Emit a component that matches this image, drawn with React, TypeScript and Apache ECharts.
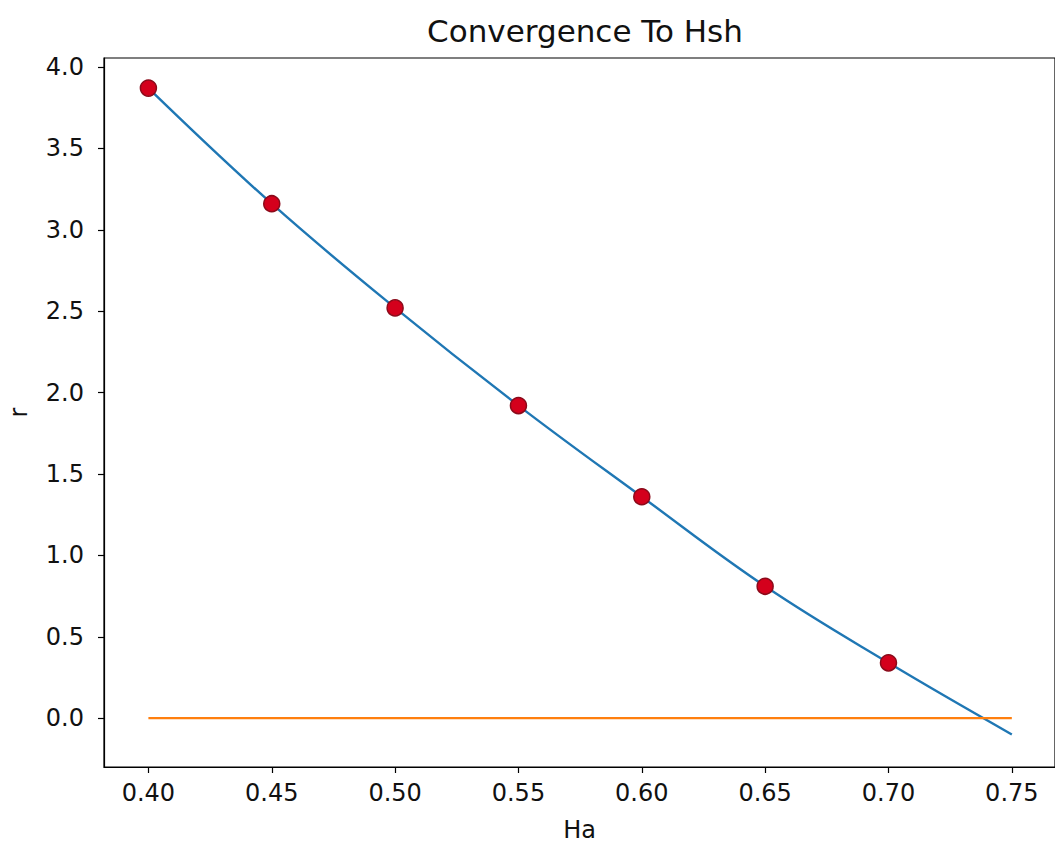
import React, { useEffect, useRef } from "react";
import * as echarts from "echarts";

const haPoints = [0.40, 0.45, 0.50, 0.55, 0.60, 0.65, 0.70];
const rPoints = [3.87, 3.16, 2.52, 1.92, 1.36, 0.81, 0.34];
const curveHa = [0.40, 0.45, 0.50, 0.55, 0.60, 0.65, 0.70, 0.75];
const curveR = [3.87, 3.16, 2.52, 1.92, 1.36, 0.81, 0.34, -0.10];
const zeroHa = [0.40, 0.75];
const zeroR = [0, 0];
const xTicks = [0.40, 0.45, 0.50, 0.55, 0.60, 0.65, 0.70, 0.75];
const yTicks = [0.0, 0.5, 1.0, 1.5, 2.0, 2.5, 3.0, 3.5, 4.0];

const FONT = "DejaVu Sans";

export default function App() {
  const ref = useRef<HTMLDivElement>(null);
  useEffect(() => {
    if (!ref.current) return;
    const chart = echarts.init(ref.current, null, { renderer: "svg" });
    chart.setOption({
      animation: false,
      backgroundColor: "#ffffff",
      title: {
        text: "Convergence To Hsh",
        left: 580,
        top: 10,
        textAlign: "center",
        textStyle: { fontFamily: FONT, fontSize: 31, fontWeight: "normal", color: "#111" },
      },
      grid: {
        left: 104,
        right: 0,
        top: 58,
        bottom: 82,
        outerBoundsMode: "none",
        containLabel: false,
        show: true,
        borderColor: "#000",
        borderWidth: 1.2,
        backgroundColor: "transparent",
      },
      xAxis: {
        type: "value",
        min: 0.382,
        max: 0.7675,
        name: "Ha",
        nameLocation: "middle",
        nameGap: 51,
        nameTextStyle: { fontFamily: FONT, fontSize: 24, color: "#111" },
        splitLine: { show: false },
        axisLine: { show: true, onZero: false, lineStyle: { color: "#000", width: 1.2 } },
        axisTick: { show: true, inside: false, length: 6, customValues: xTicks, lineStyle: { color: "#000", width: 1.2 } },
        axisLabel: {
          customValues: xTicks,
          formatter: (v: number) => v.toFixed(2),
          fontFamily: FONT,
          fontSize: 24,
          color: "#111",
          margin: 14,
        },
      },
      yAxis: {
        type: "value",
        min: -0.30,
        max: 4.055,
        name: "r",
        nameLocation: "middle",
        nameGap: 73,
        nameRotate: 90,
        nameTextStyle: { fontFamily: FONT, fontSize: 24, color: "#111" },
        splitLine: { show: false },
        axisLine: { show: true, onZero: false, lineStyle: { color: "#000", width: 1.2 } },
        axisTick: { show: true, inside: false, length: 6, customValues: yTicks, lineStyle: { color: "#000", width: 1.2 } },
        axisLabel: {
          customValues: yTicks,
          formatter: (v: number) => v.toFixed(1),
          fontFamily: FONT,
          fontSize: 24,
          color: "#111",
          margin: 20,
        },
      },
      series: [
        {
          type: "line",
          data: curveHa.map((x, i) => [x, curveR[i]]),
          smooth: 0.4,
          showSymbol: false,
          lineStyle: { color: "#1f77b4", width: 2.4 },
          z: 2,
        },
        {
          type: "line",
          data: zeroHa.map((x, i) => [x, zeroR[i]]),
          showSymbol: false,
          lineStyle: { color: "#ff7f0e", width: 2.4 },
          z: 3,
        },
        {
          type: "scatter",
          data: haPoints.map((x, i) => [x, rPoints[i]]),
          symbolSize: 16,
          itemStyle: { color: "#d4001c", borderColor: "#8b0a1a", borderWidth: 1.5, opacity: 1 },
          z: 4,
        },
      ],
    });
    return () => chart.dispose();
  }, []);
  return (
    <div
      ref={ref}
      style={{ position: "fixed", left: 0, top: 0, width: 1055, height: 849, background: "#fff" }}
    />
  );
}
